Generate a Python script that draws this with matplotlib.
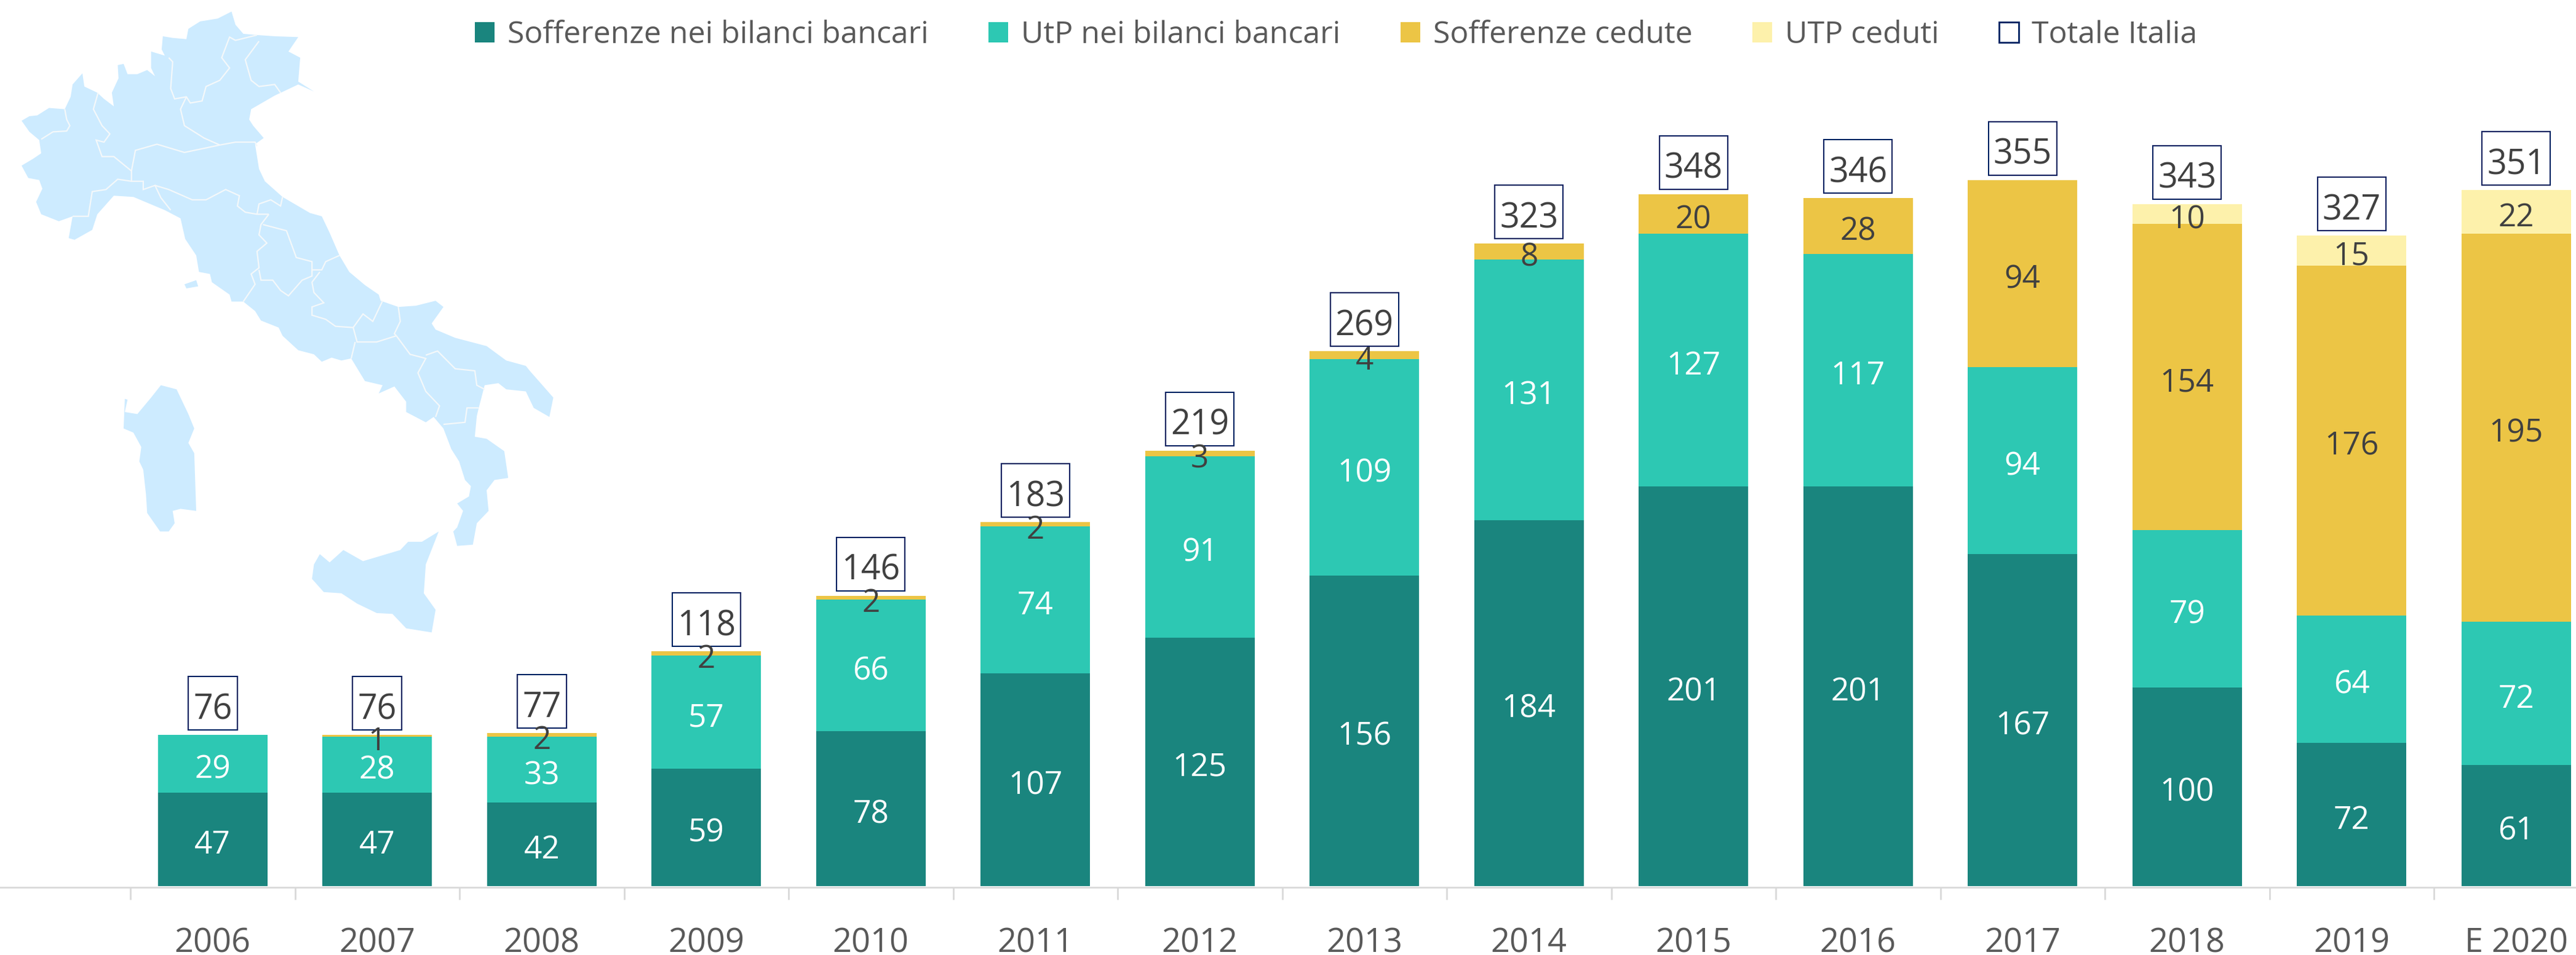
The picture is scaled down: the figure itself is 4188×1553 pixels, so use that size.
import matplotlib
matplotlib.use("Agg")
import matplotlib.pyplot as plt
from matplotlib.patches import Polygon, Patch, Rectangle
from matplotlib.transforms import IdentityTransform

years = ["2006","2007","2008","2009","2010","2011","2012","2013","2014","2015","2016","2017","2018","2019","E 2020"]
sofferenze_bilanci = [47,47,42,59,78,107,125,156,184,201,201,167,100,72,61]
utp_bilanci = [29,28,33,57,66,74,91,109,131,127,117,94,79,64,72]
sofferenze_cedute = [0,1,2,2,2,2,3,4,8,20,28,94,154,176,195]
utp_ceduti = [0,0,0,0,0,0,0,0,0,0,0,0,10,15,22]
totale_italia = [76,76,77,118,146,183,219,269,323,348,346,355,343,327,351]
series_names = ["Sofferenze nei bilanci bancari","UtP nei bilanci bancari","Sofferenze cedute","UTP ceduti","Totale Italia"]

# decorative background map outline, in reference pixels
SX, SY = 0.638, 0.67
mainland = [(55,293),(75,320),(100,340),(105,372),(85,385),(55,402),(72,432),(100,437),(108,458),(92,490),(105,520),(150,537),(185,525),(175,578),(190,582),(235,558),(248,520),(290,475),(340,478),(420,510),(460,530),(472,580),(500,620),(507,660),(535,665),(540,685),(585,715),(590,732),(620,732),(650,755),(665,778),(710,795),(720,815),(760,850),(800,860),(820,878),(845,868),(870,875),(895,870),(930,925),(975,935),(965,955),(1005,938),(1035,975),(1035,1000),(1085,1025),(1105,1012),(1130,1040),(1150,1090),(1170,1120),(1185,1165),(1200,1180),(1195,1205),(1165,1222),(1180,1240),(1165,1280),(1155,1290),(1165,1325),(1205,1322),(1215,1270),(1245,1240),(1240,1190),(1260,1165),(1295,1160),(1285,1095),(1240,1065),(1210,1060),(1215,1010),(1220,990),(1235,935),(1270,930),(1290,945),(1340,950),(1360,990),(1400,1012),(1410,965),(1350,900),(1340,888),(1290,875),(1240,840),(1160,820),(1110,800),(1100,785),(1130,745),(1110,730),(1060,742),(1015,745),(970,730),(965,715),(930,692),(890,660),(865,620),(840,565),(820,525),(790,517),(720,478),(675,440),(660,410),(650,350),(672,335),(645,305),(635,290),(640,265),(700,232),(760,205),(800,222),(760,198),(765,140),(735,125),(760,90),(700,88),(655,85),(620,82),(600,60),(590,28),(555,45),(510,52),(480,70),(475,95),(440,92),(415,88),(412,120),(420,135),(385,125),(385,165),(395,185),(375,170),(350,180),(325,180),(315,155),(300,158),(302,190),(285,225),(290,258),(265,240),(248,225),(215,210),(210,178),(185,205),(180,235),(165,265),(125,262),(95,280),(75,282)]
elba = [(470,690),(500,680),(505,695),(475,700)]
sardinia = [(318,968),(325,970),(318,1000),(350,1005),(385,965),(410,935),(450,945),(465,975),(480,1005),(495,1040),(480,1075),(495,1100),(500,1240),(460,1235),(440,1240),(445,1270),(430,1290),(408,1290),(375,1245),(372,1200),(365,1140),(355,1120),(360,1085),(340,1050),(315,1040)]
sicily = [(800,1370),(815,1345),(840,1365),(875,1335),(925,1362),(1020,1335),(1040,1315),(1075,1315),(1118,1290),(1085,1370),(1080,1440),(1110,1480),(1100,1535),(1035,1525),(1000,1490),(960,1488),(910,1465),(870,1440),(825,1437),(795,1405)]
borders = [
 [(105,338),(135,320),(170,318),(178,305),(170,290),(165,265)],
 [(250,225),(238,265),(260,305),(280,325),(265,345),(245,340),(260,380),(290,380),(335,415),(335,440)],
 [(185,525),(225,525),(235,465),(270,460),(300,435),(335,440),(365,440),(365,460),(395,450),(410,480),(435,510)],
 [(335,415),(345,365),(400,350),(470,370),(560,352),(600,345),(650,345),(655,355)],
 [(475,235),(460,265),(470,305),(520,335),(560,352)],
 [(430,140),(440,150),(435,215),(445,240),(475,235),(485,250),(515,245),(525,210),(560,195),(585,165),(565,140),(585,90),(600,98),(655,85)],
 [(660,100),(625,145),(640,195),(660,210),(700,205),(715,225)],
 [(395,450),(430,460),(490,485),(525,485),(575,460),(610,475),(605,500),(625,515),(655,520),(685,520)],
 [(655,520),(660,495),(690,485),(715,500),(720,478)],
 [(685,520),(665,545),(660,570),(680,590),(655,610),(660,650),(640,665),(650,690),(625,725),(620,732)],
 [(670,545),(730,560),(755,625),(795,635),(795,660)],
 [(660,655),(665,680),(695,680),(715,705),(735,718),(770,680),(795,670),(795,655)],
 [(795,655),(820,655),(830,635),(865,620)],
 [(815,660),(795,685),(800,710),(825,735),(795,745),(795,765),(830,775),(855,792),(900,795)],
 [(975,730),(950,780),(925,762),(900,795)],
 [(900,795),(910,830),(960,830),(1010,815)],
 [(1015,745),(1020,780),(1005,810),(1010,815)],
 [(905,830),(895,870)],
 [(1010,815),(1045,860),(1085,870),(1065,905),(1085,950),(1120,985),(1110,1012)],
 [(1085,862),(1115,852),(1160,895),(1210,900),(1215,935),(1235,945)],
 [(1130,1030),(1185,1025),(1190,990),(1220,990)],
]

W, H = 4188, 1553
plt.rcParams['font.family'] = ['Open Sans', 'DejaVu Sans']
fig = plt.figure(figsize=(W/100, H/100), dpi=100)
ax = fig.add_axes([0, 0, 1, 1])
ax.patch.set_visible(False)

X0, DX, Y0, DY = 345.75, 267.5, 1441.0, 3.234
xs = list(range(len(years)))

for s in ("top", "left", "right"):
    ax.spines[s].set_visible(False)
ax.spines["bottom"].set_position(("data", -0.5))
ax.spines["bottom"].set_color("#D9D9D9")
ax.spines["bottom"].set_linewidth(2.0)
ax.set_yticks([])
ax.set_xticks(xs)
ax.set_xticklabels(years)
ax.tick_params(axis="x", which="major", length=0, pad=46, labelsize=39, labelcolor="#595959")
ax.set_xticks([x - 0.5 for x in xs] + [xs[-1] + 0.5], minor=True)
ax.tick_params(axis="x", which="minor", length=14.5, width=2.0, color="#D9D9D9")
ax.set_xlim(-X0/DX, (W-X0)/DX)
ax.set_ylim(-(H-Y0)/DY, Y0/DY)

def to_fig(pts):
    return [(x*SX, H - y*SY) for x, y in pts]

for shape in (mainland, elba, sardinia, sicily):
    fig.add_artist(Polygon(to_fig(shape), closed=True, facecolor="#CDEBFF", edgecolor="none", transform=IdentityTransform(), zorder=0))
for line in borders:
    fig.add_artist(Polygon(to_fig(line), closed=False, fill=False, edgecolor="#F4F8FA", linewidth=1.6, transform=IdentityTransform(), zorder=0.5))

colors = ["#1A857E", "#2DC8B3", "#ECC545", "#FDF1AB"]
label_colors = ["white", "white", "#404040", "#404040"]
stacks = [sofferenze_bilanci, utp_bilanci, sofferenze_cedute, utp_ceduti]
bottom = [0]*len(years)
handles = []
for vals, col, lc, name in zip(stacks, colors, label_colors, series_names):
    bars = ax.bar(xs, vals, 0.665, bottom=bottom, color=col, linewidth=0, label=name, zorder=2)
    handles.append(bars)
    for x, v, b in zip(xs, vals, bottom):
        if v > 0:
            ax.annotate(str(v), (x, b + v/2), xytext=(0, -7), textcoords="offset points",
                        ha="center", va="center", color=lc, fontsize=37, zorder=5)
    bottom = [b + v for b, v in zip(bottom, vals)]

handles.append(Patch(facecolor="white", edgecolor="#002060", linewidth=2, label=series_names[4]))

for x, tot, top in zip(xs, totale_italia, bottom):
    px, py = ax.transData.transform((x, top))
    w = 80 if tot < 100 else 111
    h = 87
    ax.add_artist(Rectangle((px - w/2, py + 8), w, h, facecolor="white", edgecolor="#002060", linewidth=1.5, transform=IdentityTransform(), zorder=4))
    ax.annotate(str(tot), (x, top), xytext=(0, (8 + h/2 - 11)*0.72), textcoords="offset points",
                ha="center", va="center", color="#404040", fontsize=40, zorder=6)

ax.legend(handles=handles, ncol=5, loc="upper left", bbox_to_anchor=(772/W, 1 - 33/H), frameon=False,
          fontsize=36, labelcolor="#595959", handlelength=0.64, handleheight=0.64, handletextpad=0.42,
          columnspacing=1.95, borderpad=0, borderaxespad=0)
fig.savefig("out.png", dpi=100)
